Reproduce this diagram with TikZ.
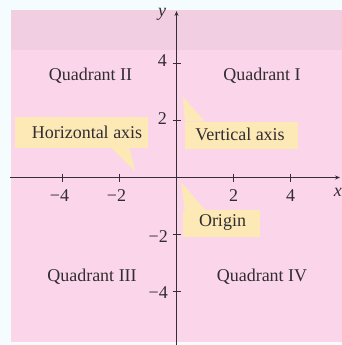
\documentclass[tikz,border=0pt]{standalone}
\usepackage{fontspec}
\setmainfont{Liberation Serif}
\usetikzlibrary{arrows.meta}
\definecolor{pinkbg}{RGB}{251,214,234}
\definecolor{pinkband}{RGB}{242,206,226}
\definecolor{callout}{RGB}{252,233,182}
\definecolor{axiscol}{RGB}{55,45,55}
\definecolor{txt}{RGB}{50,45,50}
\begin{document}
\begin{tikzpicture}[x=1pt,y=-1pt,
  lbl/.style={font=\fontsize{18}{20}\selectfont, text=txt, inner sep=0pt},
  box/.style={fill=callout, inner sep=0pt},
  axisline/.style={draw=axiscol, line width=1.1pt},
  tick/.style={draw=axiscol, line width=0.9pt}]
\useasboundingbox (0,0) rectangle (342,345);
\fill[white!96!cyan] (0,0) rectangle (342,345);
\fill[pinkbg] (11,10) rectangle (342,342);
\fill[pinkband] (11,10) rectangle (342,50);
% callouts
\node[box, minimum width=133pt, minimum height=31pt] (hbox) at (81.5,132.5) {};
\coordinate (htip) at (135,171);
\fill[callout] ([xshift=30pt]hbox.south) -- (htip) -- ([xshift=48pt]hbox.south) -- cycle;
\node[lbl] (htext) at (87,132) {Horizontal axis};
\node[box, minimum width=113pt, minimum height=27pt] (vbox) at (241.5,135) {};
\coordinate (vtip) at (183,97);
\fill[callout] (vbox.north west) -- (vtip) -- ([xshift=20pt]vbox.north west) -- cycle;
\node[lbl] (vtext) at (240,134) {Vertical axis};
\node[box, minimum width=77pt, minimum height=27pt] (obox) at (221.5,223.5) {};
\coordinate (otip) at (181,182);
\fill[callout] ([xshift=2pt]obox.north west) -- (otip) -- ([xshift=22pt]obox.north west) -- cycle;
\node[lbl] (otext) at (222.5,222) {Origin};
% axes
\coordinate (O) at (176.5,177.5);
\coordinate (xl) at (10,177.5);
\coordinate (xr) at (340,177.5);
\coordinate (yb) at (176.5,345);
\coordinate (yt) at (176.5,11);
\draw[axisline, -{Stealth[length=5pt,width=4pt]}] (xl) -- (xr);
\draw[axisline, -{Stealth[length=5pt,width=4pt]}] (yb) -- (yt);
\foreach \xx/\lx/\l in {62.5/59.5/−4,119.5/116.5/−2,233.5/233.5/2,290.5/290.5/4}{
  \draw[tick] (\xx,173.5) -- (\xx,181.5);
  \node[lbl, anchor=north] at (\lx,189) {\l};
}
\foreach \yy in {63.5,120.5,234.5,291.5}{
  \draw[tick] (172.5,\yy) -- (180.5,\yy);
}
\node[lbl, anchor=east] (y4) at (167,61) {4};
\node[lbl, anchor=east] (y2) at (167,119) {2};
\node[lbl, anchor=east] (ym2) at (168,237) {−2};
\node[lbl, anchor=east] (ym4) at (168,293) {−4};
\node[lbl] (ylab) at (162,14) {\itshape y};
\node[lbl, anchor=east] (xlab) at (342,192) {\itshape x};
% quadrant labels
\node[lbl] (q2) at (90.5,76) {Quadrant II};
\node[lbl] (q1) at (262,76) {Quadrant I};
\node[lbl] (q3) at (92,277) {Quadrant III};
\node[lbl] (q4) at (262,277) {Quadrant IV};
\end{tikzpicture}
\end{document}
